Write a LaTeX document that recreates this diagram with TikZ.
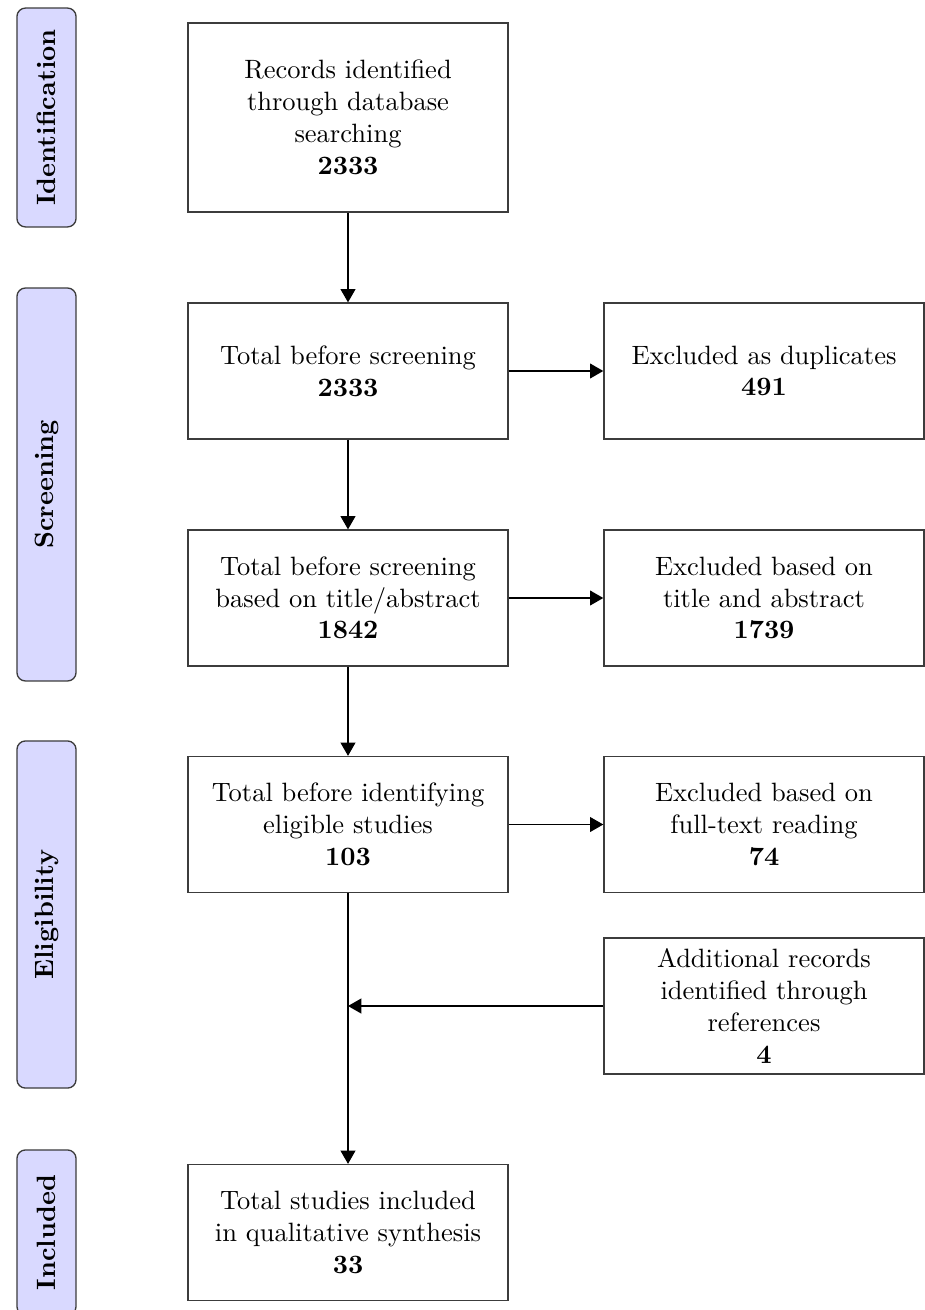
\documentclass[tikz,border=0pt]{standalone}
\usetikzlibrary{arrows.meta}
\definecolor{phasefill}{RGB}{217,217,255}
\definecolor{boxline}{RGB}{60,60,60}
\begin{document}
\begin{tikzpicture}[x=0.3774pt,y=-0.3774pt,
  box/.style={draw=boxline,line width=0.5pt,fill=white,align=center,minimum width=120.8pt,minimum height=51.3pt,inner sep=0pt,font=\normalsize},
  phase/.style={draw=boxline,line width=0.5pt,fill=phasefill,rounded corners=3.2pt,minimum width=22.3pt,inner sep=0pt},
  phasetext/.style={rotate=90,font=\bfseries,inner sep=0pt},
  arr/.style={-{Triangle[length=5pt,width=5.6pt]},line width=0.5pt}]
\useasboundingbox (0,0) rectangle (924,1310);
% phase labels
\node[phase,minimum height=82.6pt] (pid) at (46.5,117.5) {};
\node[phasetext] (tid) at (pid.center) {Identification};
\node[phase,minimum height=148.3pt] (psc) at (46.5,484.5) {};
\node[phasetext] (tsc) at (psc.center) {Screening};
\node[phase,minimum height=131pt] (pel) at (46.5,914.5) {};
\node[phasetext] (tel) at (pel.center) {Eligibility};
\node[phase,minimum height=62.3pt] (pin) at (46.5,1232.5) {};
\node[phasetext] (tin) at (pin.center) {Included};
% left column
\node[box,minimum height=71.3pt] (b1) at (348,117.5) {Records identified\\through database\\searching\\\textbf{2333}};
\node[box] (b2) at (348,371) {Total before screening\\\textbf{2333}};
\node[box] (b3) at (348,598) {Total before screening\\based on title/abstract\\\textbf{1842}};
\node[box] (b4) at (348,824.5) {Total before identifying\\eligible studies\\\textbf{103}};
\node[box] (b5) at (348,1232.5) {Total studies included\\in qualitative synthesis\\\textbf{33}};
% right column
\node[box] (r1) at (764,371) {Excluded as duplicates\\\textbf{491}};
\node[box] (r2) at (764,598) {Excluded based on\\title and abstract\\\textbf{1739}};
\node[box] (r3) at (764,824.5) {Excluded based on\\full-text reading\\\textbf{74}};
\node[box] (r4) at (764,1006) {Additional records\\identified through\\references\\\textbf{4}};
\coordinate (j) at (348,1006);
% connectors
\draw[arr] (b1) -- (b2);
\draw[arr] (b2) -- (b3);
\draw[arr] (b3) -- (b4);
\draw[arr] (b4) -- (b5);
\draw[arr] (b2) -- (r1);
\draw[arr] (b3) -- (r2);
\draw[arr] (b4) -- (r3);
\draw[arr] (r4) -- (j);
\end{tikzpicture}
\end{document}
